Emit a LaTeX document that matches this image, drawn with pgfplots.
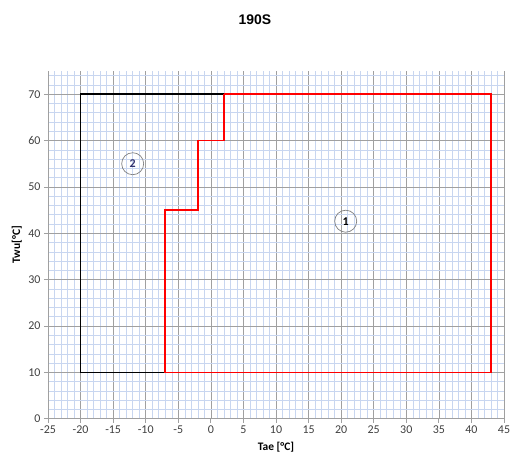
\documentclass[border=0pt]{standalone}
\usepackage{pgfplots}
\pgfplotsset{compat=1.18}
\usepackage{fontspec}
\setmainfont{Carlito}
\newfontfamily\titlefont{Liberation Sans}
\definecolor{majgrid}{RGB}{160,160,160}
\definecolor{mingrid}{RGB}{200,214,240}
\definecolor{tickgray}{RGB}{64,64,64}
\definecolor{circnum}{RGB}{50,50,110}
\begin{document}
\begin{tikzpicture}
\useasboundingbox (-48bp,-36.3bp) rectangle (462bp,418.7bp);
\begin{axis}[
  at={(0,0)}, anchor=south west,
  scale only axis, width=456bp, height=347.7bp,
  xmin=-25, xmax=45, ymin=0, ymax=75,
  xtick={-25,-20,...,45}, ytick={0,10,...,70},
  minor xtick={-25,-24,...,45},
  minor ytick={0,2,...,74},
  grid=both,
  major grid style={draw=majgrid, line width=0.6bp},
  minor grid style={draw=mingrid, line width=0.5bp},
  axis x line*=bottom, axis y line*=left,
  axis line style={draw=majgrid, line width=0.8bp, -},
  tick align=outside, major tick length=4bp, minor tick length=0bp,
  tick style={draw=majgrid, line width=0.8bp},
  ticklabel style={font=\fontsize{12}{14}\selectfont, text=tickgray},
  /pgf/number format/assume math mode=true,
  xlabel={\bfseries Tae [°C]},
  ylabel={\bfseries Twu[°C]},
  label style={font=\fontsize{11.5}{13}\selectfont},
  xlabel style={at={(0.5,0)}, anchor=center, yshift=-28.3bp},
  ylabel style={at={(0,0.5)}, anchor=center, yshift=31.3bp},
  clip=false,
]
\addplot[black, line width=1.6bp, line join=miter] coordinates {(-7,10) (-20,10) (-20,70) (2,70)};
\addplot[red, line width=1.6bp, line join=miter] coordinates {(2,70) (43,70) (43,10) (-7,10) (-7,45) (-2,45) (-2,60) (2,60) (2,70)};
\addplot[only marks, mark=o, mark size=11bp, mark options={draw=gray, line width=0.7bp},
  point meta=explicit symbolic, nodes near coords,
  nodes near coords style={anchor=center, font=\bfseries\fontsize{12}{14}\selectfont, text=circnum}]
  coordinates {(-12,55)[2]};
\addplot[only marks, mark=o, mark size=11bp, mark options={draw=gray, line width=0.7bp},
  point meta=explicit symbolic, nodes near coords,
  nodes near coords style={anchor=center, font=\bfseries\fontsize{12}{14}\selectfont, text=black}]
  coordinates {(20.7,42.6)[1]};
\end{axis}
\node[font=\titlefont\bfseries\fontsize{14}{16}\selectfont] at (207bp,398.7bp) {190S};
\end{tikzpicture}
\end{document}
